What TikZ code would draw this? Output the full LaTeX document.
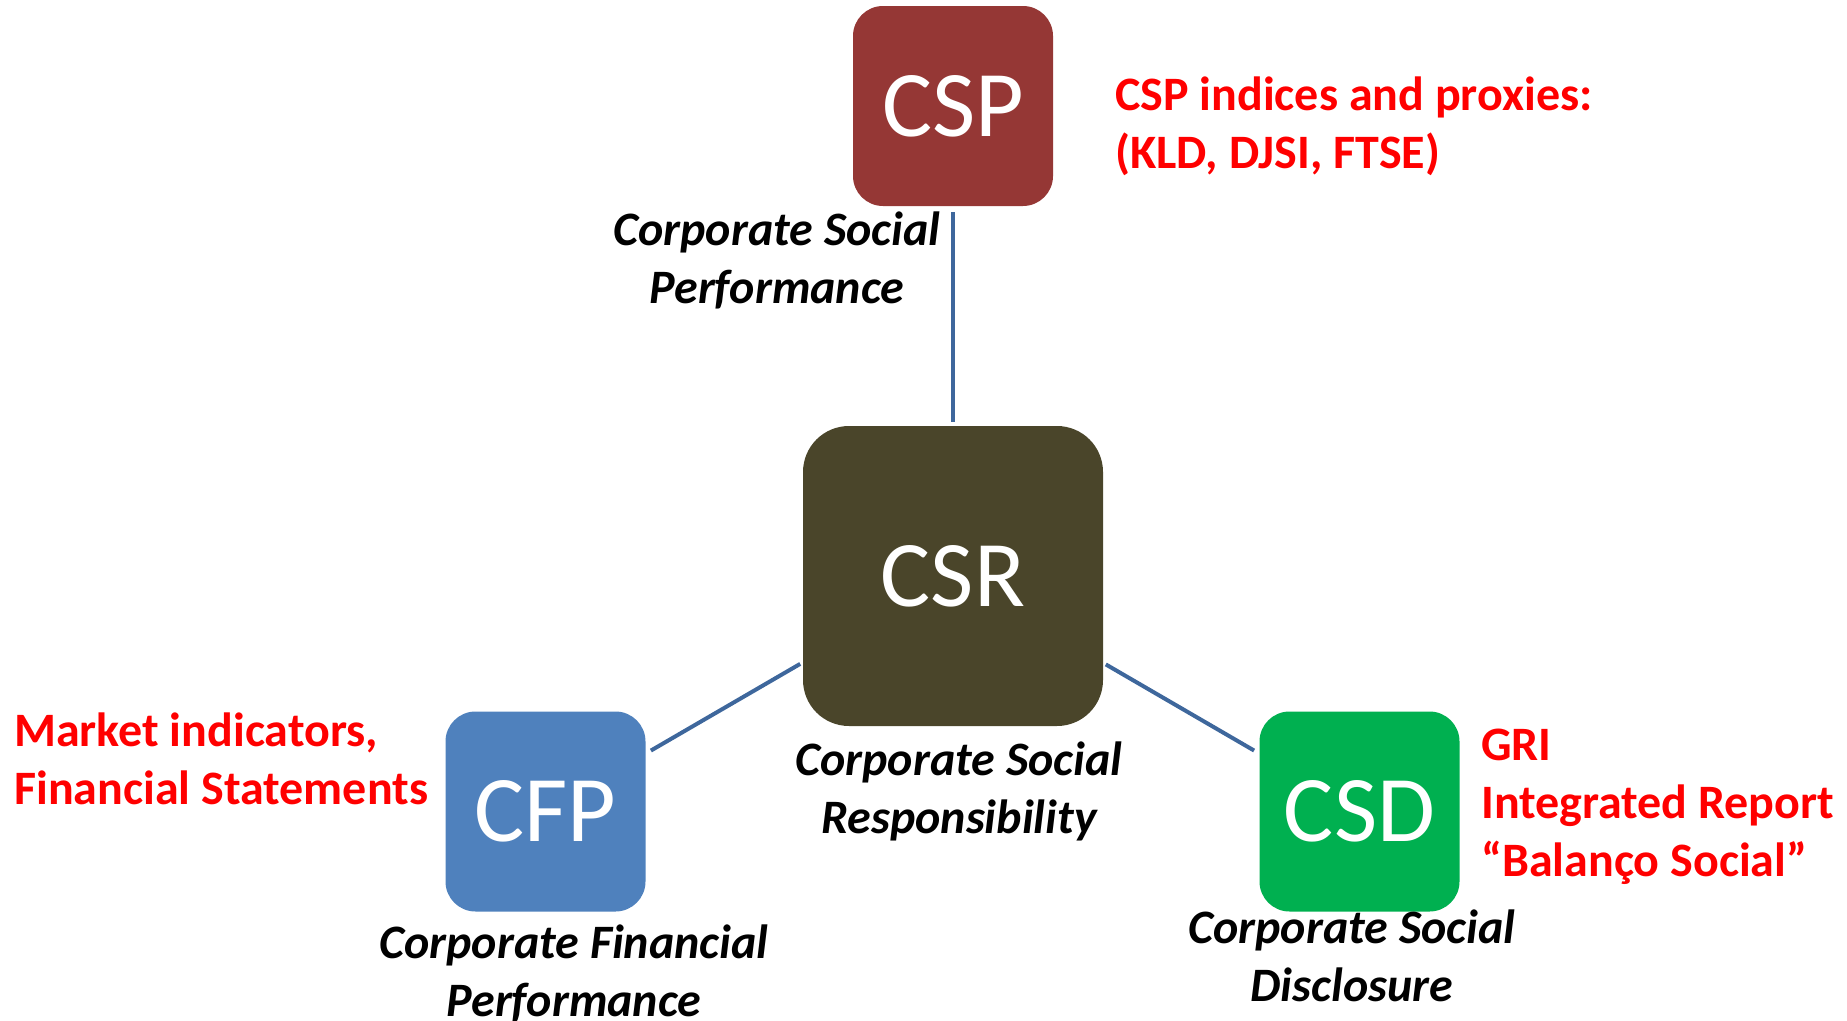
\documentclass[tikz,border=0pt]{standalone}
\usepackage{fontspec}
\setmainfont{Carlito}
\definecolor{cspc}{HTML}{953735}
\definecolor{csrc}{HTML}{4A452A}
\definecolor{cfpc}{HTML}{4F81BD}
\definecolor{csdc}{HTML}{00B050}
\definecolor{linkc}{HTML}{3E679C}
\definecolor{redt}{HTML}{FF0000}
\tikzset{
  smallbox/.style={rectangle, rounded corners=30pt, minimum width=200pt, minimum height=200pt, inner sep=0pt, text=white, font=\fontsize{94}{110}\selectfont},
  bigbox/.style={smallbox, rounded corners=46pt, minimum width=300pt, minimum height=300pt},
  caption/.style={align=center, anchor=base, inner sep=0pt, font=\fontsize{48}{58}\selectfont\bfseries\itshape},
  note/.style={align=left, anchor=base west, inner sep=0pt, text=redt, font=\fontsize{48}{58}\selectfont\bfseries},
  link/.style={draw=linkc, line width=4pt}
}
\begin{document}
\begin{tikzpicture}[x=1pt,y=-1pt]
\useasboundingbox (0,0) rectangle (1847,1020);
\node[smallbox, fill=cspc] (csp) at (953,106) {CSP};
\node[bigbox, fill=csrc] (csr) at (953,576) {CSR};
\node[smallbox, fill=cfpc] (cfp) at (545.5,811.5) {CFP};
\node[smallbox, fill=csdc] (csd) at (1359.5,811.5) {CSD};
\draw[link, shorten <=6pt, shorten >=4pt] (csp) -- (csr);
\draw[link, shorten <=6pt, shorten >=3pt] (cfp) -- (csr);
\draw[link, shorten <=6pt, shorten >=3pt] (csd) -- (csr);
\node[caption] (lcsp) at (777,303) {Corporate Social\\Performance};
\node[caption] (lcsr) at (959,833) {Corporate Social\\Responsibility};
\node[caption] (lcfp) at (574,1016) {Corporate Financial\\Performance};
\node[caption] (lcsd) at (1352,1001) {Corporate Social\\Disclosure};
\node[note] (ncsp) at (1115,168) {CSP indices and proxies:\\(KLD, DJSI, FTSE)};
\node[note] (ncfp) at (14,804) {Market indicators,\\Financial Statements};
\node[note] (ncsd) at (1481,876) {GRI\\Integrated Report\\“Balanço Social”};
\end{tikzpicture}
\end{document}
